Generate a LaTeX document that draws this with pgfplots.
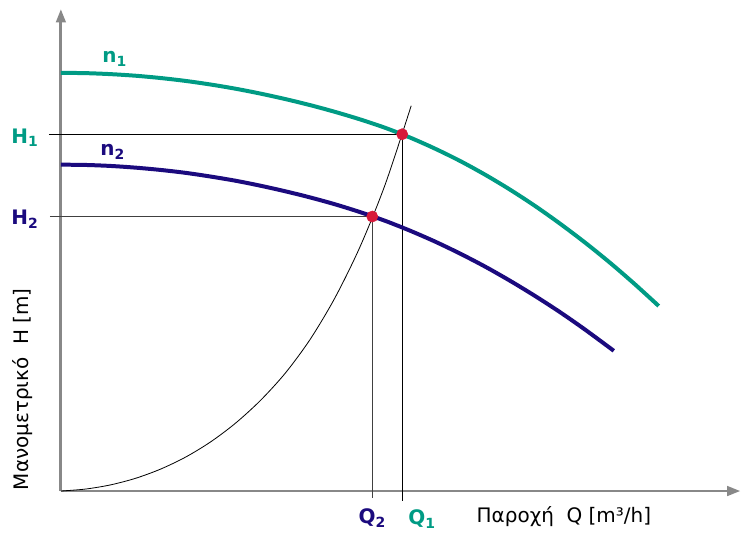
\documentclass[border=0pt]{standalone}
\usepackage{fontspec}
\setmainfont{DejaVu Sans}
\usepackage{pgfplots}
\pgfplotsset{compat=1.18}
\usetikzlibrary{arrows.meta}
\definecolor{teal1}{HTML}{009B84}
\definecolor{navy1}{HTML}{1B0A7E}
\definecolor{dotred}{HTML}{D7193A}
\definecolor{axgray}{HTML}{888888}
\begin{document}
\begin{tikzpicture}
\begin{axis}[
  x=0.75pt, y=0.75pt,
  xmin=0, xmax=681, ymin=0, ymax=483,
  axis lines=left,
  axis line style={axgray, line width=2.2pt, -{Triangle[width=7pt,length=10pt]}},
  xtick=\empty, ytick=\empty,
  clip=false,
]
% bounding box of the whole picture
\path (axis cs:-61,-40) rectangle (axis cs:681,492);
% guide lines
\addplot[black, line width=0.8pt] coordinates {(-12,357.5) (342,357.5)};
\addplot[black, line width=0.8pt] coordinates {(342,357.5) (342,-10)};
\addplot[black!75, line width=1pt] coordinates {(-11,275) (312,275)};
\addplot[black!75, line width=1pt] coordinates {(312,275) (312,-7)};
% system curve
\addplot[black, line width=0.6pt, smooth] coordinates {
(0,0) (25,2) (50,6.2) (75,12.8) (100,22) (125,34) (150,49.2) (175,68) (200,90.8) (225,118.3) (250,152.3) (275,194.3) (300,245.3) (325,307.3) (351,386)};
% pump curve n1
\addplot[teal1, line width=3pt, smooth] coordinates {
(0,419) (25,418.7) (50,417.7) (75,416.1) (100,413.8) (125,410.9) (150,407.3) (175,403.1) (200,398.2) (225,392.7) (250,386.6) (275,379.8) (300,372.3) (325,363.9) (350,354.1) (375,343.0) (400,330.7) (425,317.0) (450,302.0) (475,285.7) (500,268.0) (525,249.1) (550,228.9) (575,207.3) (599,185.4)};
% pump curve n2
\addplot[navy1, line width=3pt, smooth] coordinates {
(0,327) (25,326.7) (50,325.7) (75,324.0) (100,321.7) (125,318.8) (150,315.1) (175,310.9) (200,305.9) (225,300.3) (250,294.1) (275,287.2) (300,279.4) (325,270.7) (350,260.8) (375,249.9) (400,237.9) (425,224.9) (450,210.7) (475,195.5) (500,179.3) (525,161.9) (554,140.5)};
% operating points
\addplot[only marks, mark=*, mark size=4.2pt, dotred, mark options={draw=dotred, fill=dotred}] coordinates {(342,357.5) (312,275)};
% labels
\node[teal1, font=\fontsize{15}{18}\selectfont\bfseries] at (axis cs:54,433) {n\textsubscript{1}};
\node[navy1, font=\fontsize{15}{18}\selectfont\bfseries] at (axis cs:52,340) {n\textsubscript{2}};
\node[teal1, font=\fontsize{15}{18}\selectfont\bfseries] at (axis cs:-36,354) {H\textsubscript{1}};
\node[navy1, font=\fontsize{15}{18}\selectfont\bfseries] at (axis cs:-36,272) {H\textsubscript{2}};
\node[navy1, font=\fontsize{15}{18}\selectfont\bfseries] at (axis cs:312,-27) {Q\textsubscript{2}};
\node[teal1, font=\fontsize{15}{18}\selectfont\bfseries] at (axis cs:362,-28) {Q\textsubscript{1}};
\node[black, font=\fontsize{15}{18}\selectfont] at (axis cs:504,-26) {Παροχή\ \ Q [m³/h]};
\node[black, font=\fontsize{15}{18}\selectfont, rotate=90] at (axis cs:-38,102) {Μανομετρικό\ \ H [m]};
\end{axis}
\end{tikzpicture}
\end{document}
